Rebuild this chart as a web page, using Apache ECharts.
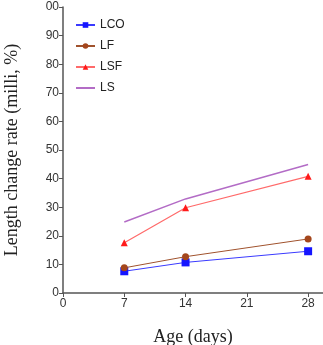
<!DOCTYPE html>
<html>
<head>
<meta charset="utf-8">
<script src="https://cdn.jsdelivr.net/npm/echarts@6/dist/echarts.min.js"></script>
<style>
  html, body { margin: 0; padding: 0; background: #fff; }
  #chart { width: 323px; height: 345px; }
</style>
</head>
<body>
<div id="chart"></div>
<script>
// values
const ages = [7, 14, 28];
const xTicks = [0, 7, 14, 21, 28];
const lco = [7.6, 10.7, 14.6];
const lf = [8.8, 12.7, 18.9];
const lsf = [17.6, 29.8, 40.8];
const ls = [24.8, 32.9, 44.9];

const pairs = (vals) => ages.map((a, i) => [a, vals[i]]);

const chart = echarts.init(document.getElementById('chart'));

const mkSeries = (name, vals, color, lineColor, symbol, size, width) => ({
  name,
  type: 'line',
  data: pairs(vals),
  symbol,
  symbolSize: size,
  showSymbol: symbol !== 'none',
  itemStyle: { color },
  lineStyle: { color: lineColor, width },
  emphasis: { disabled: true },
  animation: false
});

chart.setOption({
  animation: false,
  grid: { left: 63, right: 0, top: 7, bottom: 52, outerBoundsMode: 'none', containLabel: false },
  legend: {
    orient: 'vertical',
    left: 70,
    top: 14,
    itemWidth: 19,
    itemHeight: 7,
    itemGap: 9,
    textStyle: { fontFamily: 'Liberation Sans', fontSize: 12, color: '#222' },
    data: [
      'LCO', 'LF', 'LSF',
      { name: 'LS', itemStyle: { color: 'rgba(0,0,0,0)', borderWidth: 0 } }
    ]
  },
  xAxis: {
    type: 'value',
    min: 0,
    max: 29.7,
    name: 'Age (days)',
    nameLocation: 'middle',
    nameGap: 35,
    nameTextStyle: { fontFamily: 'Liberation Serif', fontSize: 18, color: '#222' },
    axisLine: { lineStyle: { color: '#555', width: 1.5 } },
    axisTick: { customValues: xTicks, length: 4, lineStyle: { color: '#555' } },
    axisLabel: { customValues: xTicks, fontFamily: 'Liberation Sans', fontSize: 12, color: '#333', margin: 5 },
    splitLine: { show: false }
  },
  yAxis: {
    type: 'value',
    min: 0,
    max: 100,
    interval: 10,
    name: 'Length change rate (milli, %)',
    nameLocation: 'middle',
    nameGap: 42,
    nameTextStyle: { fontFamily: 'Liberation Serif', fontSize: 18, color: '#222' },
    axisLine: { show: true, lineStyle: { color: '#555', width: 1.5 } },
    axisTick: { show: true, length: 4, lineStyle: { color: '#555' } },
    axisLabel: {
      fontFamily: 'Liberation Sans', fontSize: 12, color: '#333', margin: 4,
      formatter: (v) => (v === 100 ? '00' : String(v))
    },
    splitLine: { show: false }
  },
  series: [
    mkSeries('LCO', lco, '#1515ff', '#3a3aff', 'rect', 8, 1),
    mkSeries('LF', lf, '#a4461c', '#a0522d', 'circle', 7, 1),
    mkSeries('LSF', lsf, '#ff1a1a', '#ff6a6a', 'triangle', 7, 1.2),
    mkSeries('LS', ls, '#b36cc6', '#b36cc6', 'none', 0, 1.5)
  ]
});
</script>
</body>
</html>
